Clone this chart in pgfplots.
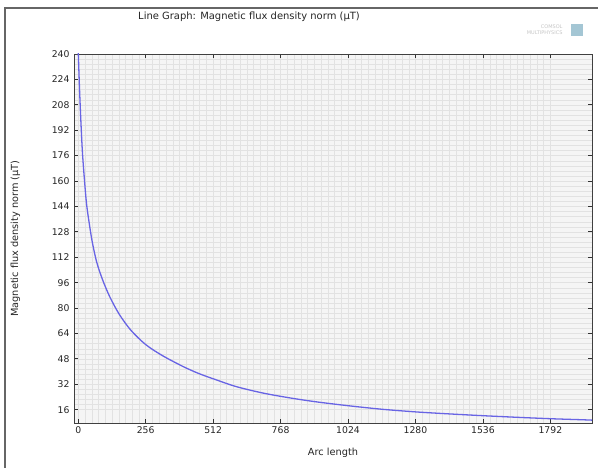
\documentclass[border=0pt]{standalone}
\usepackage{pgfplots}
\pgfplotsset{compat=1.18}
\usepackage{fontspec}
\setmainfont{DejaVu Sans}
\definecolor{curve}{RGB}{104,100,228}
\definecolor{bggray}{RGB}{245,245,245}
\definecolor{gridgray}{RGB}{226,226,226}
\begin{document}
\begin{tikzpicture}[x=1bp,y=1bp]
\useasboundingbox (0,0) rectangle (598,468);
\fill[white] (0,0) rectangle (598,468);
\draw[gray!80!black, line width=2bp] (5,-2) -- (5,460) -- (600,460);
\node[font=\fontsize{10}{12}\selectfont, text=black!85] at (249,451) {Line Graph: Magnetic flux density norm (µT)};
\node[font=\fontsize{5}{6}\selectfont, text=gray!45, align=right, anchor=east] at (566,438) {COMSOL\\MULTIPHYSICS};
\fill[cyan!40!gray!60] (571,432) rectangle (583,444);
\begin{axis}[
  at={(74bp,45bp)}, anchor=south west,
  scale only axis, width=518bp, height=369bp,
  xmin=-16, xmax=1950, ymin=7.6, ymax=240,
  xtick={0,256,...,1792}, ytick={16,32,...,240},
  minor x tick num=9, minor y tick num=4,
  grid=both,
  major grid style={gridgray, line width=0.4pt},
  minor grid style={gridgray, line width=0.3pt},
  axis background/.style={fill=bggray},
  tick align=inside, major tick length=4bp, minor tick length=0pt,
  tick style={black!80, line width=0.8pt},
  axis line style={black!75, line width=0.9pt},
  every tick label/.append style={font=\fontsize{9.3}{11}\selectfont, text=black!85},
  /pgf/number format/assume math mode=true,
  /pgf/number format/1000 sep={},
  xlabel={Arc length}, ylabel={Magnetic flux density norm (µT)},
  label style={font=\fontsize{9.8}{11}\selectfont, text=black!85},
  xlabel style={at={(axis description cs:0.5,-0.081)}, anchor=center},
  ylabel style={at={(axis description cs:-0.113,0.5)}, anchor=center},
  yticklabel style={xshift=-1bp},
  clip=true,
]
\addplot[curve, line width=1.3pt, smooth] coordinates {
(0,242) (5,218) (10,198) (16,178) (24,160) (32,145) (44,131) (54,121) (70,109)
(92,98) (120,87) (156,76) (200,66) (256,57) (320,50) (400,43) (460,38.6)
(520,35) (600,30.5) (700,26.5) (800,23.5) (900,21) (1024,18.5) (1150,16.3)
(1280,14.6) (1400,13.4) (1536,12.2) (1664,11.2) (1792,10.3) (1920,9.6) (1950,9.4)
};
\end{axis}
\end{tikzpicture}
\end{document}
